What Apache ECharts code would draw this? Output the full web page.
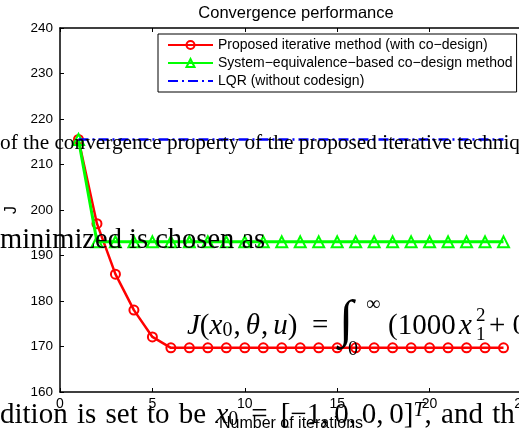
<!DOCTYPE html>
<html>
<head>
<meta charset="utf-8">
<script src="https://cdn.jsdelivr.net/npm/echarts@6/dist/echarts.min.js"></script>
<style>
  html, body { margin: 0; padding: 0; background: #fff; }
  #chart { width: 519px; height: 439px; }
</style>
</head>
<body>
<div id="chart"></div>
<script>
// datos
const iterations = [1, 2, 3, 4, 5, 6, 7, 8, 9, 10, 11, 12, 13, 14, 15, 16, 17, 18, 19, 20, 21, 22, 23, 24];
const proposed = [215.5, 197, 185.9, 178, 172.1, 169.7, 169.7, 169.7, 169.7, 169.7, 169.7, 169.7,
  169.7, 169.7, 169.7, 169.7, 169.7, 169.7, 169.7, 169.7, 169.7, 169.7, 169.7, 169.7];
const systemEq = [215.5, 193, 193, 193, 193, 193, 193, 193, 193, 193, 193, 193,
  193, 193, 193, 193, 193, 193, 193, 193, 193, 193, 193, 193];
const lqr = [215.5, 215.5, 215.5, 215.5, 215.5, 215.5, 215.5, 215.5, 215.5, 215.5, 215.5, 215.5,
  215.5, 215.5, 215.5, 215.5, 215.5, 215.5, 215.5, 215.5, 215.5, 215.5, 215.5, 215.5];
const seriesNames = [
  'Proposed iterative method (with co\u2212design)',
  'System\u2212equivalence\u2212based co\u2212design method',
  'LQR (without codesign)'
];

const toPairs = (vals) => iterations.map((it, i) => [it, vals[i]]);

const sans = 'Liberation Sans, Arial, sans-serif';
const serif = 'Liberation Serif, Times New Roman, serif';

const chart = echarts.init(document.getElementById('chart'));

const txt = (left, top, text, font) => ({
  type: 'text', left: left, top: top, z: 100,
  style: { text: text, font: font, fill: '#000' }
});

chart.setOption({
  animation: false,
  title: {
    text: 'Convergence performance',
    left: 291, top: 0, textAlign: 'center',
    textStyle: { fontFamily: sans, fontSize: 16.5, fontWeight: 'normal', color: '#000' }
  },
  grid: { left: 60, top: 28, width: 462, height: 364, show: false, containLabel: false, outerBoundsMode: 'none' },
  legend: {
    orient: 'vertical',
    left: 158, top: 34,
    padding: [3, 4, 3, 9],
    itemGap: 2,
    itemWidth: 45, itemHeight: 10,
    backgroundColor: '#fff',
    borderColor: '#000', borderWidth: 1,
    textStyle: { fontFamily: sans, fontSize: 14, color: '#000', lineHeight: 16 },
    data: [
      { name: seriesNames[0] },
      { name: seriesNames[1] },
      { name: seriesNames[2], itemStyle: { color: 'rgba(0,0,0,0)', borderWidth: 0 } }
    ]
  },
  xAxis: [{
    type: 'value', min: 0, max: 25, interval: 5,
    name: 'Number of iterations', nameLocation: 'middle', nameGap: 24,
    nameTextStyle: { fontFamily: sans, fontSize: 16, color: '#000' },
    axisLine: { show: true, onZero: false, lineStyle: { color: '#000', width: 1.5 } },
    axisTick: { inside: true, length: 4, lineStyle: { color: '#000' } },
    axisLabel: { fontFamily: sans, fontSize: 14, color: '#000', margin: 5 },
    splitLine: { show: false }
  }, {
    type: 'value', min: 0, max: 25, interval: 5, position: 'top',
    axisLine: { show: true, onZero: false, lineStyle: { color: '#000', width: 1.5 } },
    axisTick: { inside: true, length: 4, lineStyle: { color: '#000' } },
    axisLabel: { show: false },
    splitLine: { show: false }
  }],
  yAxis: {
    type: 'value', min: 160, max: 240, interval: 10,
    name: 'J', nameLocation: 'middle', nameGap: 37, nameRotate: 90,
    nameTextStyle: { fontFamily: sans, fontSize: 16, color: '#000' },
    axisLine: { show: true, lineStyle: { color: '#000', width: 1.5 } },
    axisTick: { show: true, inside: true, length: 4, lineStyle: { color: '#000' } },
    axisLabel: { fontFamily: sans, fontSize: 13.5, color: '#000', margin: 7 },
    splitLine: { show: false }
  },
  series: [{
    name: seriesNames[0], type: 'line', data: toPairs(proposed),
    color: '#ff0000',
    symbol: 'circle', symbolSize: 9,
    lineStyle: { color: '#ff0000', width: 2.5 },
    itemStyle: { color: 'rgba(255,255,255,0)', borderColor: '#ff0000', borderWidth: 2 },
    z: 2
  }, {
    name: seriesNames[1], type: 'line', data: toPairs(systemEq),
    color: '#00ff00',
    symbol: 'triangle', symbolSize: 11,
    lineStyle: { color: '#00ff00', width: 3 },
    itemStyle: { color: 'rgba(255,255,255,0)', borderColor: '#00ff00', borderWidth: 2 },
    z: 3
  }, {
    name: seriesNames[2], type: 'line', data: toPairs(lqr),
    color: '#0000ff',
    symbol: 'none',
    lineStyle: { color: '#0000ff', width: 2.5, type: [10, 4, 2, 4] },
    z: 4
  }],
  // texto del articulo superpuesto en la imagen
  graphic: [
    txt(0, 133, 'of the convergence property of the proposed iterative techniq', '21.3px ' + serif),
    txt(0, 226, 'minimized is chosen as', '28.5px ' + serif),
    // formula J(x0, theta, u) = int_0^inf (1000 x1^2 + 0
    {
      type: 'text', left: 187, top: 312, z: 100,
      style: {
        text: '{i|J}{n|(}{i|x}{s|0}{c|,}{i|\u03b8}{c|,}{i|u}{n|)}',
        fill: '#000',
        rich: {
          n: { font: '29px ' + serif },
          c: { font: '29px ' + serif, padding: [0, 5, 0, 1] },
          i: { font: 'italic 29px ' + serif },
          s: { font: '20px ' + serif, verticalAlign: 'bottom' }
        }
      }
    },
    txt(312, 312, '=', '29px ' + serif),
    txt(339, 296, '\u222b', 'italic 52px ' + serif),
    txt(366, 295, '\u221e', '20px ' + serif),
    txt(348, 340, '0', '20px ' + serif),
    txt(388, 312, '(1000', '29px ' + serif),
    txt(459, 312, 'x', 'italic 29px ' + serif),
    txt(476, 307, '2', '19px ' + serif),
    txt(476, 326, '1', '19px ' + serif),
    txt(489, 312, '+ 0', '29px ' + serif),
    {
      type: 'text', left: 0, top: 401, z: 100,
      style: {
        text: '{n|dition}{w| }{n|is}{w| }{n|set}{w| }{n|to}{w| }{n|be}{w| }{i|x}{s|0}{e|=}' +
          '{n|[\u22121,\u20090,\u20090,\u20090]}{p|T}{n|,}{w| }{n|and}{w| }{n|th}',
        fill: '#000',
        rich: {
          n: { font: '29px ' + serif },
          w: { font: '29px ' + serif, padding: [0, 1, 0, 1] },
          e: { font: '29px ' + serif, padding: [0, 13, 0, 13] },
          i: { font: 'italic 29px ' + serif },
          s: { font: '20px ' + serif, verticalAlign: 'bottom' },
          p: { font: 'italic 20px ' + serif, verticalAlign: 'top' }
        }
      }
    }
  ]
});
</script>
</body>
</html>
